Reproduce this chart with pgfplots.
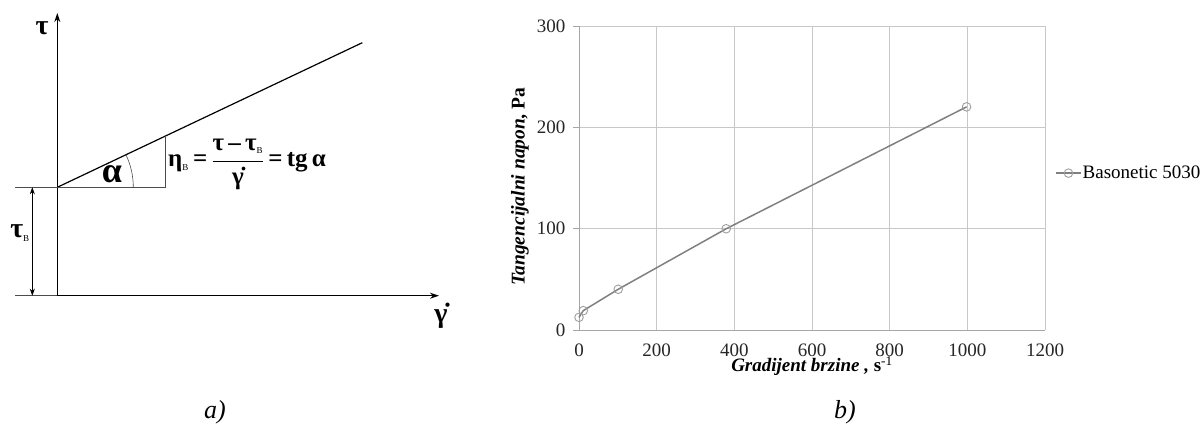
\documentclass[border=0pt]{standalone}
\usepackage{fontspec}
\setmainfont{Liberation Serif}
\usepackage{pgfplots}
\pgfplotsset{compat=1.18}
\usetikzlibrary{arrows.meta}
\begin{document}
\begin{tikzpicture}[x=1pt,y=1pt]
\useasboundingbox (0,0) rectangle (1201,426);
% ---------- panel a (schematic) ----------
\begin{axis}[at={(0pt,0pt)},anchor=south west,scale only axis,width=1201pt,height=426pt,
  xmin=0,xmax=1201,ymin=0,ymax=426,hide axis,clip=false]
\addplot[black,line width=1.3pt,-{Stealth[length=9pt,width=6pt]}] coordinates {(57.3,130.3) (57.3,413)};
\addplot[black,line width=1.3pt,-{Stealth[length=9pt,width=6pt]}] coordinates {(57.3,130.3) (439,130.3)};
\addplot[black,line width=1.2pt] coordinates {(57.3,238.7) (362.3,383.3)};
\addplot[black!70,line width=0.7pt] coordinates {(15,238.7) (165,238.7) (165,290)};
\addplot[black!70,line width=0.7pt] coordinates {(15,130.3) (57.3,130.3)};
\addplot[black,line width=0.6pt,{Stealth[length=7pt,width=5pt]}-{Stealth[length=7pt,width=5pt]}] coordinates {(32.3,130.3) (32.3,238.7)};
\draw[black!70,line width=0.6pt] (axis cs:133.3,238.7) arc[start angle=0,end angle=25.4,radius=76];
\node[font=\fontsize{28}{30}\selectfont\bfseries] at (axis cs:42,398) {τ};
\node[font=\fontsize{28}{30}\selectfont\bfseries] at (axis cs:20,193) {τ\textsubscript{\fontsize{9}{9}\selectfont\mdseries B}};
\node[font=\fontsize{28}{30}\selectfont\bfseries] at (axis cs:441,110) {\.{γ}};
\node[font=\fontsize{36}{38}\selectfont\bfseries] at (axis cs:112,252) {α};
\node[font=\fontsize{25}{28}\selectfont\bfseries,anchor=west,inner sep=0pt] at (axis cs:168,262)
  {η\textsubscript{\fontsize{9}{9}\selectfont\mdseries B}\,=\,$\displaystyle\frac{\hbox{τ\,–\,τ\textsubscript{\fontsize{9}{9}\selectfont\mdseries B}}}{\hbox{\.{γ}}}$\,=\,tg\,α};
\node[font=\fontsize{26}{28}\selectfont\itshape] at (axis cs:215,14) {a)};
\node[font=\fontsize{26}{28}\selectfont\itshape] at (axis cs:845,14) {b)};
\end{axis}
% ---------- panel b (chart) ----------
\begin{axis}[at={(579pt,96pt)},anchor=south west,scale only axis,width=466pt,height=304pt,
  xmin=0,xmax=1200,ymin=0,ymax=300,
  xtick={0,200,...,1200},ytick={0,100,200,300},
  axis x line*=bottom,axis y line*=left,
  axis line style={black!35,line width=0.8pt,-},
  grid=major,grid style={black!22,line width=0.8pt},
  xtick style={draw=none},
  ytick style={black!35,line width=0.8pt},
  tick align=outside,major tick length=6pt,
  /pgf/number format/assume math mode=true,
  /pgf/number format/1000 sep={},
  ticklabel style={font=\fontsize{19}{21}\selectfont,text=black!85},
  yticklabel style={xshift=-4pt},
  xticklabel style={yshift=-4pt},
  xlabel={\textbf{\textit{Gradijent brzine ,} s}\textsuperscript{-1}},
  xlabel style={font=\fontsize{19}{21}\selectfont,at={(axis description cs:0.5,-0.118)},anchor=center},
  ylabel={\textbf{\textit{Tangencijalni napon,} Pa}},
  ylabel style={font=\fontsize{19.5}{21}\selectfont,at={(axis description cs:-0.1266,0.472)},anchor=center},
  legend style={at={(1.0215,0.516)},anchor=west,draw=none,fill=none,font=\fontsize{19}{21}\selectfont,inner sep=0pt,nodes={inner sep=1pt}},
  legend image code/.code={\draw[mark repeat=2,mark phase=2] plot coordinates {(0pt,0pt) (12.5pt,0pt) (25pt,0pt)};},
  legend cell align=left,
  clip=false]
\addplot[black!50,line width=1.5pt,mark=o,mark size=4.3pt,mark options={black!38,line width=0.9pt,fill=white}]
  coordinates {(0,12.5) (11,19.1) (101,40.2) (379,99.9) (998,220.2)};
\addlegendentry{Basonetic 5030}
\end{axis}
\end{tikzpicture}
\end{document}
